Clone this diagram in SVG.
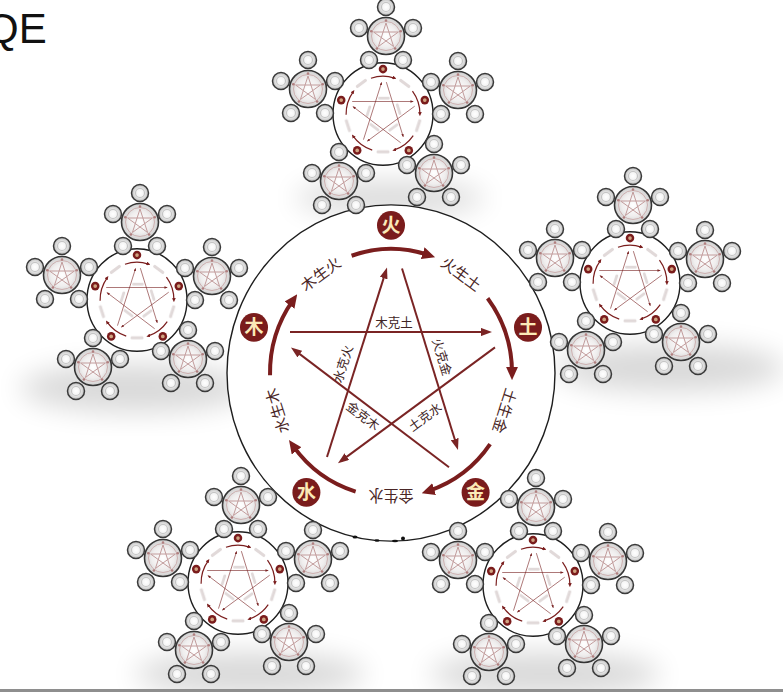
<svg xmlns="http://www.w3.org/2000/svg" xmlns:xlink="http://www.w3.org/1999/xlink" width="783" height="692" viewBox="0 0 783 692">
<style>
.ring{fill:#fff;stroke:#1e1e1e;stroke-width:1.4}
.gen{fill:none;stroke:#7a1d1d;stroke-width:4;marker-end:url(#ah)}
.ke{fill:none;stroke:#7a2424;stroke-width:2;marker-end:url(#as)}
.node{fill:#7a1c1c}
.nt{font-family:"Noto Sans CJK SC",sans-serif;font-size:19px;font-weight:700;fill:#fbeab8;text-anchor:middle}
.gl{font-family:"Noto Sans CJK SC",sans-serif;font-size:15px;fill:#4a2626;text-anchor:middle}
.kl{font-family:"Noto Sans CJK SC",sans-serif;font-size:12.5px;fill:#3e2424;text-anchor:middle}
.sm{fill:#9a8080;opacity:.3}
.l2{fill:url(#g2);stroke:#353535;stroke-width:1.6}
.l3{fill:url(#g3);stroke:#3a3a3a;stroke-width:1.5}
.l3i{fill:none;stroke:#c4c4c4;stroke-width:1.2}
.sh{fill:#000;opacity:.15;filter:url(#blur)}
</style>
<defs>
<marker id="ah" viewBox="0 0 13 12" refX="6" refY="6" markerWidth="13" markerHeight="12" markerUnits="userSpaceOnUse" orient="auto"><path d="M0,0 L13,6 L0,12 Z" fill="#7a1d1d"/></marker>
<marker id="as" viewBox="0 0 11 8" refX="7" refY="4" markerWidth="11" markerHeight="8" markerUnits="userSpaceOnUse" orient="auto"><path d="M0,0 L11,4 L0,8 Z" fill="#7a2424"/></marker>
<radialGradient id="g2"><stop offset="0" stop-color="#ffffff"/><stop offset=".6" stop-color="#f0eeee"/><stop offset="1" stop-color="#cfcfcf"/></radialGradient>
<radialGradient id="g3"><stop offset="0" stop-color="#ffffff"/><stop offset=".45" stop-color="#f4f4f4"/><stop offset=".75" stop-color="#d6d6d6"/><stop offset="1" stop-color="#bdbdbd"/></radialGradient>
<filter id="blur" x="-50%" y="-50%" width="200%" height="200%"><feGaussianBlur stdDeviation="14"/></filter>
<g id="nodeDots">
<circle class="node" cx="0" cy="-144" r="14"/><circle class="node" cx="137" cy="-44.5" r="14"/><circle class="node" cx="84.6" cy="116.5" r="14"/><circle class="node" cx="-84.6" cy="116.5" r="14"/><circle class="node" cx="-137" cy="-44.5" r="14"/>
<g fill="#e6c79c" opacity=".8"><circle cx="0" cy="-144" r="6"/><circle cx="137" cy="-44.5" r="6"/><circle cx="84.6" cy="116.5" r="6"/><circle cx="-84.6" cy="116.5" r="6"/><circle cx="-137" cy="-44.5" r="6"/></g>
</g>
<g id="mini">
<circle r="164" fill="#fff" stroke="#1e1e1e" stroke-width="4.6"/>
<use href="#connectors"/>
<use href="#nodeDots"/>
<g class="sm">
<rect x="-21" y="-126" width="42" height="10" rx="4" transform="rotate(-36)"/>
<rect x="-21" y="-126" width="42" height="10" rx="4" transform="rotate(36)"/>
<rect x="-21" y="-126" width="42" height="10" rx="4" transform="rotate(108)"/>
<rect x="-21" y="-126" width="42" height="10" rx="4" transform="rotate(180)"/>
<rect x="-21" y="-126" width="42" height="10" rx="4" transform="rotate(252)"/>
<rect x="-16" y="-55" width="38" height="9" rx="4"/>
<rect x="-19" y="-4.5" width="38" height="9" rx="4" transform="translate(51,-15.6) rotate(72.4)"/>
<rect x="-19" y="-4.5" width="38" height="9" rx="4" transform="translate(-48,-8.8) rotate(-72)"/>
<rect x="-19" y="-4.5" width="38" height="9" rx="4" transform="translate(-28,42) rotate(36.5)"/>
<rect x="-19" y="-4.5" width="38" height="9" rx="4" transform="translate(34,43) rotate(-35.7)"/>
</g>
</g>
<g id="L3"><circle class="l3" r="8.5"/><circle class="l3i" r="4.5"/></g>
<g id="L2">
<use href="#L3" x="0" y="-29"/>
<use href="#L3" x="27" y="-8"/>
<use href="#L3" x="17" y="24"/>
<use href="#L3" x="-17" y="24"/>
<use href="#L3" x="-27" y="-8"/>
<circle class="l2" r="18.5"/>
<circle r="14.5" fill="none" stroke="#c9a9a9" stroke-width="0.9"/>
<path d="M0,-13 L7.6,10.5 L-12.4,-4 L12.4,-4 L-7.6,10.5 Z" fill="none" stroke="#c29c9c" stroke-width="1"/>
<g fill="#b07f7f"><circle cx="0" cy="-15.5" r="1.3"/><circle cx="14.7" cy="-4.8" r="1.3"/><circle cx="9.1" cy="12.5" r="1.3"/><circle cx="-9.1" cy="12.5" r="1.3"/><circle cx="-14.7" cy="-4.8" r="1.3"/></g>
</g>
<g id="L1kids">
<use href="#L2" x="3" y="-78"/>
<use href="#L2" x="75" y="-24"/>
<use href="#L2" x="51" y="59"/>
<use href="#L2" x="-44" y="67"/>
<use href="#L2" x="-75" y="-25"/>
</g>
</defs>

<rect width="783" height="692" fill="#fff"/>
<g id="shadows">
<ellipse class="sh" cx="390" cy="198" rx="95" ry="16"/>
<ellipse class="sh" cx="670" cy="368" rx="115" ry="24"/>
<ellipse class="sh" cx="135" cy="388" rx="115" ry="24"/>
<ellipse class="sh" cx="250" cy="674" rx="115" ry="22"/>
<ellipse class="sh" cx="545" cy="674" rx="115" ry="22"/>
</g>

<text x="-14" y="43" font-family="Liberation Sans, Arial, sans-serif" font-size="42" fill="#111">QE</text>

<g id="main" transform="translate(391,373) scale(1,1.025)">
<circle class="ring" r="164"/>
<g id="connectors">
<path id="gen0" class="gen" d="M-39.4,-114.4 A121,121 0 0 1 37.4,-115.1"/>
<use href="#gen0" transform="rotate(72)"/>
<use href="#gen0" transform="rotate(144)"/>
<use href="#gen0" transform="rotate(216)"/>
<use href="#gen0" transform="rotate(288)"/>
<path class="ke" d="M-101,-40 L97,-40"/>
<path class="ke" d="M104,-25 L-49.8,85.7"/>
<path class="ke" d="M-64,82 L-5.2,-99.2"/>
<path class="ke" d="M11,-102 L65.8,71.2"/>
<path class="ke" d="M58,92 L-96.8,-22.6"/>
</g>
<g id="labels">
<text class="gl" transform="rotate(-36)" y="-114">木生火</text>
<text class="gl" transform="rotate(36)" y="-114">火生土</text>
<text class="gl" transform="rotate(108)" y="-114">土生金</text>
<text class="gl" transform="rotate(180)" y="-114">金生水</text>
<text class="gl" transform="rotate(252)" y="-114">水生木</text>
<text class="kl" x="3" y="-45">木克土</text>
<text class="kl" transform="translate(51,-15.6) rotate(72.4)" y="4.5">火克金</text>
<text class="kl" transform="translate(-48,-8.8) rotate(-72)" y="4.5">水克火</text>
<text class="kl" transform="translate(-28,42) rotate(36.5)" y="4.5">金克木</text>
<text class="kl" transform="translate(34,43) rotate(-35.7)" y="4.5">土克水</text>
</g>
<g id="node-huo"><circle class="node" cx="0" cy="-144" r="14"/><text class="nt" x="0" y="-137.5">火</text></g>
<g id="node-tu"><circle class="node" cx="137" cy="-44.5" r="14"/><text class="nt" x="137" y="-38">土</text></g>
<g id="node-jin"><circle class="node" cx="84.6" cy="116.5" r="14"/><text class="nt" x="84.6" y="123">金</text></g>
<g id="node-shui"><circle class="node" cx="-84.6" cy="116.5" r="14"/><text class="nt" x="-84.6" y="123">水</text></g>
<g id="node-mu"><circle class="node" cx="-137" cy="-44.5" r="14"/><text class="nt" x="-137" y="-38">木</text></g>
</g>

<g id="marks" fill="#111"><ellipse cx="355" cy="537" rx="2.5" ry="1.5"/><ellipse cx="377" cy="540.5" rx="2.5" ry="1.3"/><ellipse cx="395" cy="541" rx="3" ry="1.3"/><ellipse cx="403" cy="538.5" rx="2" ry="2"/></g>

<g id="cluster-top" transform="translate(383,114)"><use href="#mini" transform="scale(0.305,0.3125)"/><use href="#L1kids"/></g>
<g id="cluster-left" transform="translate(137,300)"><use href="#mini" transform="scale(0.305,0.3125)"/><use href="#L1kids"/></g>
<g id="cluster-right" transform="translate(630,283)"><use href="#mini" transform="scale(0.305,0.3125)"/><use href="#L1kids"/></g>
<g id="cluster-bl" transform="translate(238,583)"><use href="#mini" transform="scale(0.305,0.3125)"/><use href="#L1kids"/></g>
<g id="cluster-br" transform="translate(533,585)"><use href="#mini" transform="scale(0.305,0.3125)"/><use href="#L1kids"/></g>

<rect x="0" y="689" width="783" height="3" fill="#8e8e8e"/>
</svg>
